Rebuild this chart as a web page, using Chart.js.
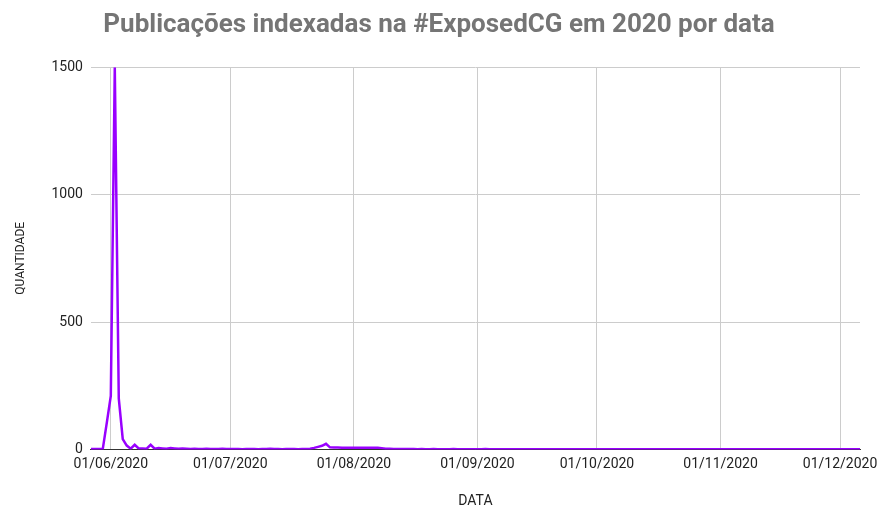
<!DOCTYPE html>
<html>
<head>
<meta charset="utf-8">
<script src="https://cdn.jsdelivr.net/npm/chart.js@4/dist/chart.umd.min.js"></script>
<style>
  html, body { margin: 0; padding: 0; background: #ffffff; }
  #wrap { width: 878px; height: 510px; }
</style>
</head>
<body>
<div id="wrap"><canvas id="c" width="878" height="510"></canvas></div>
<script>
// Daily counts, 27/05/2020 .. 06/12/2020
const startDate = "2020-05-27";
const may = [2, 2, 2, 3, 105];
const jun = [210, 1500, 200, 40, 15, 3, 18, 4, 4, 3, 18, 3, 5, 4, 3, 5, 4, 3, 4, 3, 2, 3, 2, 2, 3, 2, 2, 2, 3, 2];
const jul = [2, 2, 2, 1, 2, 2, 2, 1, 2, 2, 3, 2, 2, 1, 2, 2, 2, 1, 2, 2, 3, 6, 10, 14, 22, 8, 7, 7, 6, 6, 6];
const aug = [6, 6, 6, 6, 6, 6, 6, 5, 3, 3, 2, 2, 2, 2, 2, 2, 1, 2, 1, 1, 2, 1, 1, 1, 1, 2, 1, 1, 1, 1, 1];
const sep = [1, 1, 2, 1, 1, 1, 1, 1, 1, 1, 1, 1, 1, 1, 1, 1, 1, 1, 1, 1, 1, 1, 1, 1, 1, 1, 1, 1, 1, 1];
const oct = [1, 1, 1, 1, 1, 1, 1, 1, 1, 1, 1, 1, 1, 1, 1, 1, 1, 1, 1, 1, 1, 1, 1, 1, 1, 1, 1, 1, 1, 1, 1];
const nov = [1, 1, 1, 1, 1, 1, 1, 1, 1, 1, 1, 1, 1, 1, 1, 1, 1, 1, 1, 1, 1, 1, 1, 1, 1, 1, 1, 1, 1, 1];
const dec = [1, 1, 1, 1, 1, 1];
const xTickDates = ["2020-06-01", "2020-07-01", "2020-08-01", "2020-09-01", "2020-10-01", "2020-11-01", "2020-12-01"];
const yTicks = [0, 500, 1000, 1500];

const DAY = 86400000;
const ref = Date.UTC(2020, 5, 1);
const toDay = s => (Date.parse(s + "T00:00:00Z") - ref) / DAY;
const values = [].concat(may, jun, jul, aug, sep, oct, nov, dec);
const start = toDay(startDate);
const points = values.map((v, i) => ({ x: start + i, y: v }));
const xTickVals = xTickDates.map(toDay);
const fmt = d => {
  const t = new Date(ref + d * DAY);
  const dd = String(t.getUTCDate()).padStart(2, "0");
  const mm = String(t.getUTCMonth() + 1).padStart(2, "0");
  return dd + "/" + mm + "/" + t.getUTCFullYear();
};

new Chart(document.getElementById("c"), {
  type: "line",
  data: {
    datasets: [{
      data: points,
      borderColor: "#9900ff",
      backgroundColor: "#9900ff",
      borderWidth: 2.5,
      pointRadius: 0,
      tension: 0,
      fill: false
    }]
  },
  options: {
    responsive: false,
    animation: false,
    layout: { padding: { left: 0, right: 0, top: 0, bottom: 0 } },
    plugins: {
      legend: { display: false },
      tooltip: { enabled: false },
      title: {
        display: true,
        text: "Publicações indexadas na #ExposedCG em 2020 por data",
        color: "#757575",
        font: { family: "Roboto", size: 26, weight: "bold" },
        padding: { top: 10, bottom: 26 }
      }
    },
    scales: {
      x: {
        type: "linear",
        min: start,
        max: start + values.length - 1,
        afterBuildTicks: s => { s.ticks = xTickVals.map(v => ({ value: v })); },
        afterFit: s => { s.paddingRight = 18; },
        ticks: {
          callback: v => fmt(v),
          color: "#222222",
          font: { family: "Roboto", size: 14 },
          maxRotation: 0,
          autoSkip: false,
          padding: 7
        },
        grid: { color: "#cccccc", drawTicks: false, lineWidth: 1 },
        border: { display: true, color: "#333333", width: 1 },
        title: {
          display: true,
          text: "DATA",
          color: "#222222",
          font: { family: "Roboto", size: 14 },
          padding: { top: 13, bottom: 0 }
        }
      },
      y: {
        min: 0,
        max: 1500,
        afterBuildTicks: s => { s.ticks = yTicks.map(v => ({ value: v })); },
        ticks: {
          callback: v => String(v),
          color: "#222222",
          font: { family: "Roboto", size: 14 },
          padding: 8
        },
        grid: {
          color: c => (c.tick && c.tick.value === 0 ? "#333333" : "#cccccc"),
          drawTicks: false,
          lineWidth: 1
        },
        border: { display: false },
        title: {
          display: true,
          text: "QUANTIDADE",
          color: "#222222",
          font: { family: "Roboto", size: 12 },
          padding: { top: 14, bottom: 15 }
        }
      }
    }
  }
});
</script>
</body>
</html>
